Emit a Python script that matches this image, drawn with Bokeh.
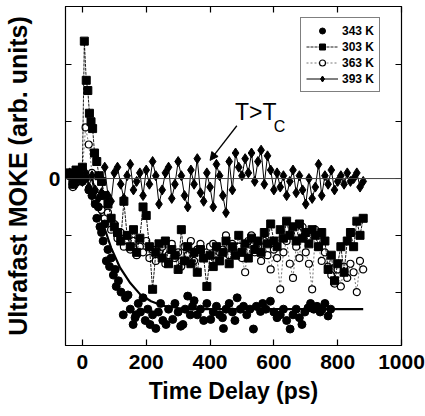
from bokeh.plotting import figure
from bokeh.models import (Range1d, LinearAxis, FixedTicker, Span, Arrow, NormalHead,
                          Label, Legend, LegendItem)
from bokeh.embed import file_html
from bokeh.resources import INLINE

# ---------------- data ----------------
X_TICKS = [0, 200, 400, 600, 800, 1000]
Y_LABELED_TICKS = [0]
Y_TICKS = [-2, -1, 0, 1, 2]

T393 = [-40, -30, -20, -10, 0, 10, 20, 30, 40, 50,
        60, 70, 80, 90, 100, 110, 120, 130, 140, 150,
        160, 170, 180, 190, 200, 210, 220, 230, 240, 250,
        260, 270, 280, 290, 300, 310, 320, 330, 340, 350,
        360, 370, 380, 390, 400, 410, 420, 430, 440, 450,
        460, 470, 480, 490, 500, 510, 520, 530, 540, 550,
        560, 570, 580, 590, 600, 610, 620, 630, 640, 650,
        660, 670, 680, 690, 700, 710, 720, 730, 740, 750,
        760, 770, 780, 790, 800, 810, 820, 830, 840, 850,
        860, 870, 880]
V393 = [0.1, 0.05, -0.1, 0.15, -0.05, 0.1, -0.15, 0.05, -0.2, -0.35,
        -0.25, 0.2, -0.3, -0.4, 0.1, 0.2, -0.1, -0.35, 0.05, 0.25,
        -0.2, -0.05, 0.1, -0.3, 0.15, -0.1, 0.3, 0.05, -0.45, -0.2,
        0.1, 0.2, -0.35, -0.1, 0.3, 0.05, -0.3, -0.5, 0.15, -0.1,
        0.35, -0.25, -0.4, 0.1, -0.15, -0.5, 0.25, 0.05, -0.3, -0.6,
        0.3, -0.2, 0.45, 0.2, 0.05, 0.35, 0.1, 0.45, -0.05, 0.3,
        0.5, -0.1, 0.4, 0.15, -0.2, 0.1, -0.15, 0.05, -0.3, -0.05,
        0.15, -0.25, 0.05, -0.2, -0.45, 0.0, -0.35, -0.15, 0.25, -0.3,
        0.05, -0.1, 0.15, -0.2, -0.05, 0.05, -0.1, 0.1, -0.05, 0.0,
        0.1, -0.15, -0.05]

T303 = [-40, -30, -20, -10, 0, 6, 12, 17, 22, 27, 32, 38, 45, 52, 60,
        70, 80, 90, 100, 110, 120, 130, 140, 150, 160,
        170, 180, 190, 200, 210, 220, 230, 240, 250, 260,
        270, 280, 290, 300, 310, 320, 330, 340, 350, 360,
        370, 380, 390, 400, 410, 420, 430, 440, 450, 460,
        470, 480, 490, 500, 510, 520, 530, 540, 550, 560,
        570, 580, 590, 600, 610, 620, 630, 640, 650, 660,
        670, 680, 690, 700, 710, 720, 730, 740, 750, 760,
        770, 780, 790, 800, 810, 820, 830, 840, 850, 860,
        870, 880]
V303 = [0.1, -0.1, 0.15, 0.0, 0.2, 2.42, 1.73, 1.55, 1.15, 1.0, 0.88, 0.45, 0.3, 0.05, -0.05,
        -0.3, -0.45, -0.7, -0.85, -0.95, -1.1, -0.4, -1.0, -1.2, -0.9,
        -1.3, -1.05, -0.5, -0.65, -1.2, -1.95, -1.3, -1.15, -1.4, -1.1,
        -1.5, -1.25, -1.35, -1.6, -0.9, -1.45, -1.2, -1.5, -1.3, -1.65,
        -1.25, -1.4, -1.9, -1.35, -1.55, -1.2, -1.45, -1.3, -1.1, -1.5,
        -1.2, -1.35, -1.0, -1.3, -1.15, -1.4, -1.05, -1.25, -1.1, -1.3,
        -0.95, -1.15, -0.8, -1.1, -1.2, -0.9, -1.05, -0.75, -1.0, -0.85,
        -1.1, -0.8, -1.05, -0.95, -1.15, -0.9, -1.0, -1.2, -0.95, -1.1,
        -1.6, -1.35, -1.8, -1.5, -1.2, -1.65, -1.1, -0.95, -1.2, -0.75,
        -1.0, -0.7]

T363 = T393
V363 = [0.05, -0.15, 0.1, -0.05, 0.15, 0.9, 0.6, 0.1, -0.4, -0.3,
        -0.55, -0.7, -0.6, -0.9, -0.8, -1.05, -0.95, -1.2, -1.0, -1.25,
        -1.1, -1.35, -1.2, -1.3, -1.1, -1.4, -1.25, -1.45, -1.3, -1.2,
        -1.5, -1.35, -1.15, -1.4, -1.3, -1.55, -1.2, -1.35, -1.1, -1.45,
        -1.25, -1.15, -1.4, -1.3, -1.2, -1.15, -1.45, -1.3, -1.25, -1.0,
        -1.35, -1.15, -1.3, -1.2, -1.4, -1.65, -1.1, -1.0, -1.3, -1.2,
        -1.45, -1.1, -1.35, -1.6, -1.25, -1.4, -1.95, -1.3, -1.1, -1.5,
        -1.75, -1.2, -1.4, -0.85, -1.3, -1.5, -1.95, -0.9, -1.2, -1.45,
        -1.3, -1.55, -1.7, -1.85, -1.6, -1.9, -1.55, -1.75, -1.5, -1.65,
        -2.0, -1.45, -1.6]

T343 = [-40, -30, -20, -10, 0, 10, 20, 30,
        40, 45, 50, 55, 60, 65, 70, 75, 80, 85, 90,
        97, 103, 106, 113, 121, 128, 135, 143, 150,
        159, 165, 168, 175, 182, 190, 197, 205, 212, 220,
        230, 238, 245, 252, 262, 270, 283, 290, 300, 308,
        315, 322, 330, 338, 345, 350, 360, 370, 380, 390,
        402, 410, 420, 430, 439, 442, 450, 460, 470, 478,
        485, 495, 505, 515, 525, 536, 545, 558, 565, 575,
        589, 600, 610, 620, 630, 640, 651, 660, 670, 680,
        688, 697, 707, 715, 725, 735, 745, 751, 760, 770,
        778]
V343 = [0.05, -0.1, 0.0, 0.1, -0.05, 0.0, -0.2, -0.3,
        -0.45, -0.7, -0.5, -0.85, -0.95, -1.1, -0.8, -1.45, -1.25, -1.55, -1.4,
        -1.7, -1.6, -1.9, -1.8, -2.0, -2.4, -2.1, -2.05, -2.3,
        -2.57, -2.45, -2.4, -2.2, -2.35, -2.1, -2.5, -2.3, -2.57, -2.4,
        -2.64, -2.35, -2.2, -2.5, -2.57, -2.3, -2.48, -2.2, -2.35, -2.6,
        -2.57, -2.3, -2.07, -2.4, -2.25, -2.15, -2.4, -2.3, -2.5, -2.2,
        -2.48, -2.35, -2.25, -2.4, -2.45, -2.64, -2.3, -2.2, -2.35, -2.5,
        -2.1, -2.3, -2.25, -2.4, -2.3, -2.65, -2.25, -2.34, -2.2, -2.3,
        -2.16, -2.35, -2.45, -2.4, -2.3, -2.5, -2.65, -2.4, -2.3, -2.45,
        -2.57, -2.35, -2.28, -2.2, -2.3, -2.25, -2.35, -2.3, -2.2, -2.42,
        -2.3]

FIT_T = [30, 45, 65, 90, 118, 150, 181, 215, 252, 300, 350, 880]
FIT_V = [0, -0.38, -0.8, -1.22, -1.57, -1.84, -2.04, -2.16, -2.24, -2.28, -2.3, -2.3]

# ---------------- figure ----------------
FONT = "Liberation Sans"

p = figure(width=425, height=416, x_range=Range1d(-53, 1000), y_range=Range1d(-2.94, 3.03),
           output_backend="svg", toolbar_location=None,
           min_border_left=65, min_border_right=24, min_border_top=6, min_border_bottom=71)
p.xgrid.visible = False
p.ygrid.visible = False
p.outline_line_color = "black"
p.outline_line_width = 1.2
p.background_fill_color = "white"
p.border_fill_color = "white"

def style_axis(ax):
    ax.major_tick_in = 6
    ax.major_tick_out = 0
    ax.minor_tick_in = 6
    ax.minor_tick_out = 0
    ax.axis_line_color = "black"
    ax.major_tick_line_color = "black"
    ax.minor_tick_line_color = "black"
    ax.major_tick_line_width = 1.2
    ax.minor_tick_line_width = 1.2

xa = p.xaxis[0]
style_axis(xa)
xa.ticker = FixedTicker(ticks=X_TICKS, minor_ticks=[])
xa.axis_label = "Time Delay (ps)"
xa.axis_label_text_font = FONT
xa.axis_label_text_font_style = "bold"
xa.axis_label_text_font_size = "23px"
xa.axis_label_text_color = "black"
xa.axis_label_standoff = 6
xa.major_label_text_font = FONT
xa.major_label_text_font_style = "bold"
xa.major_label_text_font_size = "21px"
xa.major_label_text_color = "black"
xa.major_label_standoff = 9

ya = p.yaxis[0]
style_axis(ya)
ya.ticker = FixedTicker(ticks=Y_LABELED_TICKS,
                        minor_ticks=[t for t in Y_TICKS if t not in Y_LABELED_TICKS])
ya.axis_label = "Ultrafast MOKE (arb. units)"
ya.axis_label_text_font = FONT
ya.axis_label_text_font_style = "bold"
ya.axis_label_text_font_size = "25px"
ya.axis_label_text_color = "black"
ya.axis_label_standoff = 14
ya.major_label_text_font = FONT
ya.major_label_text_font_style = "bold"
ya.major_label_text_font_size = "21px"
ya.major_label_text_color = "black"
ya.major_label_standoff = 5

top = LinearAxis(ticker=FixedTicker(ticks=[], minor_ticks=X_TICKS), major_label_standoff=0)
style_axis(top)
p.add_layout(top, "above")
right = LinearAxis(ticker=FixedTicker(ticks=[], minor_ticks=Y_TICKS), major_label_standoff=0)
style_axis(right)
p.add_layout(right, "right")

p.add_layout(Span(location=0, dimension="width", line_color="#444444", line_width=1))

fit = p.line(FIT_T, FIT_V, line_color="black", line_width=2.2)

l363 = p.line(T363, V363, line_color="#555555", line_width=0.8, line_dash="2 2")
s363 = p.scatter(T363, V363, marker="circle", size=7, fill_color="white",
                 line_color="black", line_width=1.2)
l303 = p.line(T303, V303, line_color="black", line_width=0.9, line_dash="3 1")
s303 = p.scatter(T303, V303, marker="square", size=8, fill_color="black", line_color="black")
s343 = p.scatter(T343, V343, marker="circle", size=8, fill_color="black", line_color="black")
l393 = p.line(T393, V393, line_color="black", line_width=1)
s393 = p.scatter(T393, V393, marker="diamond", size=10, fill_color="black", line_color="black")

legend = Legend(items=[
    LegendItem(label="343 K", renderers=[s343]),
    LegendItem(label="303 K", renderers=[l303, s303]),
    LegendItem(label="363 K", renderers=[l363, s363]),
    LegendItem(label="393 K", renderers=[l393, s393]),
], location=(235, 253))
legend.label_text_font = FONT
legend.label_text_font_style = "bold"
legend.label_text_font_size = "12px"
legend.label_text_color = "black"
legend.glyph_width = 32
legend.glyph_height = 15
legend.label_height = 15
legend.label_standoff = 4
legend.spacing = 1
legend.padding = 5
legend.margin = 0
legend.border_line_color = "black"
legend.border_line_width = 1.8
legend.background_fill_color = "white"
legend.background_fill_alpha = 1
p.add_layout(legend, "center")

p.add_layout(Arrow(end=NormalHead(size=8, fill_color="black", line_color="black"),
                   x_start=484, y_start=0.93, x_end=400, y_end=0.32,
                   line_color="black", line_width=1.3))
p.add_layout(Label(x=478, y=0.95, text="T>T", text_font=FONT,
                   text_font_size="23px", text_color="black"))
p.add_layout(Label(x=600, y=0.76, text="C", text_font=FONT,
                   text_font_size="16px", text_color="black"))

open("out.html", "w").write(file_html(p, INLINE))
